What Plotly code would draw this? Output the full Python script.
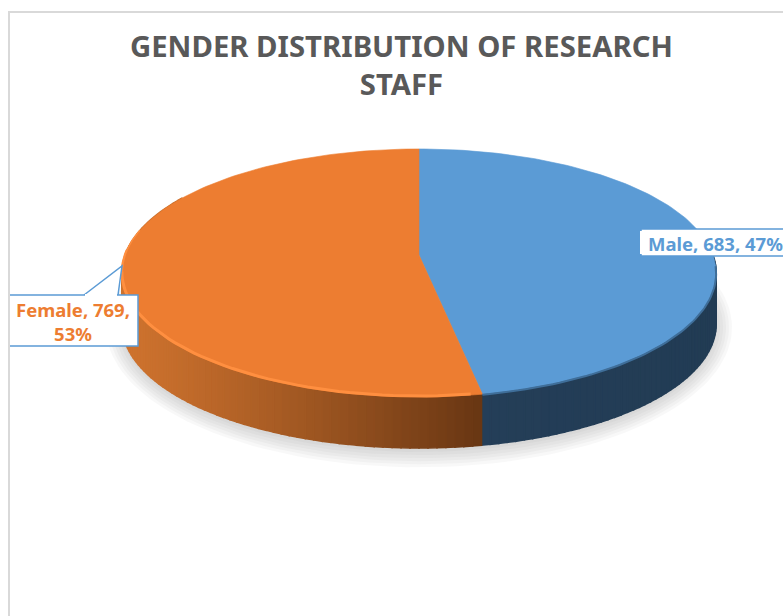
import numpy as np
import plotly.graph_objects as go

categories = ["Male", "Female"]
values = [683, 769]
title_lines = ["GENDER DISTRIBUTION OF RESEARCH", "STAFF"]

W, H = 783, 616
CX, CY = 419.0, 255.0
R, S, K = 294.0, 121.4, 0.145
DEPTH = 51.0
BLUE, ORANGE = "#5B9BD5", "#ED7D31"
FONT = "Noto Sans"


def rim(theta_deg, dy=0.0):
    t = np.radians(theta_deg)
    d = 1 + K * np.cos(t)
    return CX + R * np.sin(t) / d, CY - S * np.cos(t) / d + dy


def mix(a, b, f):
    f = float(np.clip(f, 0, 1))
    return "rgb(%d,%d,%d)" % tuple(round(x + (y - x) * f) for x, y in zip(a, b))


total = sum(values)
male_end = 360.0 * values[0] / total
fig = go.Figure()


def poly(xs, ys, color, line=None, width=0.6):
    fig.add_trace(go.Scatter(
        x=list(xs), y=list(ys), mode="lines", fill="toself", fillcolor=color,
        line=dict(color=line or color, width=width if line else 0),
        hoverinfo="skip", showlegend=False))


# soft ground shadow
for grow in [16, 13, 10, 7, 4, 1]:
    th = np.linspace(0, 360, 181)
    x, y = rim(th, DEPTH + 3)
    ex = CX + (x - CX) * (1 + grow / 300.0)
    ey = (CY + DEPTH + 18) + (y - (CY + DEPTH + 18)) * (1 + grow / 125.0)
    poly(ex, ey, "rgba(120,120,120,0.055)")

# side wall, coloured by horizontal position
edges = np.linspace(90, 300, 141)
for a, b in zip(edges[:-1], edges[1:]):
    mid = (a + b) / 2
    xa, ya = rim(np.array([a, b]))
    xm, _ = rim(mid)
    if mid < male_end:
        col = mix((36, 62, 88), (34, 60, 84), (xm - 480) / 240)
    else:
        f = float(np.clip((xm - 130) / 350, 0, 1))
        col = mix((205, 114, 46), (104, 54, 19), f ** 1.15)
    poly([xa[0], xa[1], xa[1], xa[0], xa[0]],
         [ya[0], ya[1], ya[1] + DEPTH, ya[0] + DEPTH, ya[0]], col, line=col, width=1.6)

# top faces
th_m = np.linspace(0, male_end, 120)
th_f = np.linspace(male_end, 360, 140)
xm, ym = rim(th_m)
xf, yf = rim(th_f)
poly(np.r_[CX, xm, CX], np.r_[CY, ym, CY], BLUE, line=BLUE)
poly(np.r_[CX, xf, CX], np.r_[CY, yf, CY], ORANGE, line=ORANGE)

# bevel highlights (tapering towards the back) and rim darkening
for start, stop, lw, inset in [(male_end + 2, 262, 3, 1.0), (262, 272, 2.2, 0.6), (272, 282, 1.3, 0.2)]:
    xh, yh = rim(np.linspace(start, stop, 50), -inset)
    fig.add_trace(go.Scatter(x=xh, y=yh, mode="lines", hoverinfo="skip", showlegend=False,
                             line=dict(color="#FF8F40", width=lw)))
th_b = np.linspace(95, male_end, 60)
xb, yb = rim(th_b, 0.5)
fig.add_trace(go.Scatter(x=xb, y=yb, mode="lines", hoverinfo="skip", showlegend=False,
                         line=dict(color="#3F6E99", width=2)))

# frame and callouts
shapes = [
    dict(type="line", x0=9, y0=12, x1=9, y1=H, line=dict(color="#D9D9D9", width=2)),
    dict(type="line", x0=8, y0=12, x1=W, y1=12, line=dict(color="#D9D9D9", width=2)),
]
for path, fill in [
    ("M 84 295 L 122 266 L 118 295", "white"),
    ("M 10 295 L 138 295 L 138 346 L 10 346", "white"),
    ("M 641 229 L 785 229 L 785 256 L 641 256 Z", "white"),
]:
    shapes.append(dict(type="path", path=path, fillcolor=fill, layer="above",
                       line=dict(color=BLUE, width=1.5)))
# hide the box edge under the pointer and the male box side edge
shapes.append(dict(type="line", x0=85, y0=295, x1=117, y1=295, layer="above",
                   line=dict(color="white", width=2)))
shapes.append(dict(type="line", x0=641, y0=231, x1=641, y1=254, layer="above",
                   line=dict(color="white", width=2)))

labels = ["%s, %d, %d%%" % (c, v, round(100 * v / total)) for c, v in zip(categories, values)]
female_parts = labels[1].rsplit(" ", 1)


def note(x, y, text, size, color, anchor="center"):
    return dict(x=x, y=y, text=text, xref="x", yref="y", showarrow=False,
                font=dict(family=FONT, size=size, color=color, weight="bold"),
                xanchor=anchor, yanchor="middle")


annotations = [
    note(401, 65, "<br>".join(title_lines), 29.3, "#595959"),
    note(646, 243, labels[0], 18.5, BLUE, "left"),
    note(73, 321, "<br>".join(female_parts), 18.5, ORANGE),
]

fig.update_layout(
    width=W, height=H, margin=dict(l=0, r=0, t=0, b=0),
    paper_bgcolor="white", plot_bgcolor="white", showlegend=False,
    xaxis=dict(range=[0, W], visible=False, fixedrange=True),
    yaxis=dict(range=[H, 0], visible=False, fixedrange=True),
    shapes=shapes, annotations=annotations,
)
fig.write_html("out.html", config=dict(displayModeBar=False),
               post_script="document.body.style.margin='0';document.body.style.overflow='hidden';")
